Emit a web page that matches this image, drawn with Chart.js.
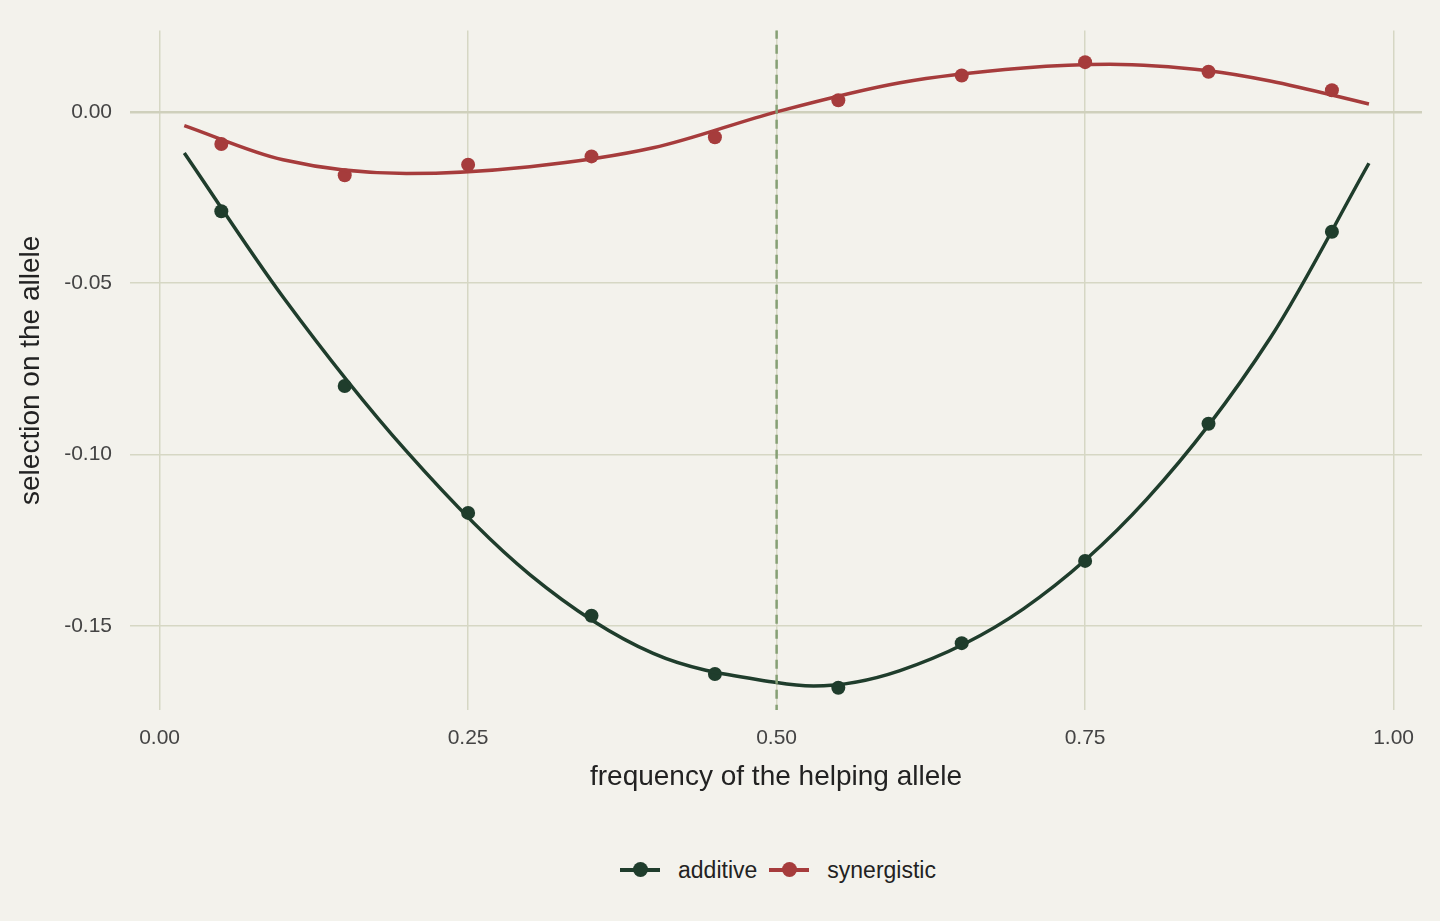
<!DOCTYPE html>
<html><head><meta charset="utf-8">
<script src="https://cdn.jsdelivr.net/npm/chart.js@4/dist/chart.umd.min.js"></script>
<style>
body{margin:0;background:#f3f2ec;font-family:"Liberation Sans",Arial,sans-serif;}
#wrap{position:relative;width:1440px;height:921px;}
#legend{position:absolute;top:851px;left:116px;width:1324px;text-align:center;font-size:23px;color:#222;}
.li{display:inline-flex;align-items:center;margin:0 6px;}
.sw{position:relative;width:40px;height:4px;margin-right:18px;}
.sw i{position:absolute;left:13px;top:-6px;width:15px;height:15px;border-radius:50%;}
</style></head><body>
<div id="wrap"><canvas id="c" width="1440" height="820" style="width:1440px;height:820px;display:block"></canvas>
<div id="legend"></div></div>
<script>
const pointX=[0.05,0.15,0.25,0.35,0.45,0.55,0.65,0.75,0.85,0.95];
const additivePts=[-0.029,-0.080,-0.117,-0.147,-0.164,-0.168,-0.155,-0.131,-0.091,-0.035];
const synergisticPts=[-0.0094,-0.0185,-0.0154,-0.013,-0.0074,0.0034,0.0106,0.0145,0.0117,0.0063];
const additiveCurveX=[0.02,0.1,0.2,0.3,0.4,0.5,0.53,0.6,0.7,0.8,0.9,0.98];
const additiveCurveY=[-0.012,-0.054,-0.099,-0.135,-0.158,-0.1665,-0.1675,-0.163,-0.145,-0.113,-0.066,-0.015];
const synCurveX=[0.02,0.1,0.2,0.3,0.4,0.5,0.6,0.7,0.77,0.85,0.9,0.98];
const synCurveY=[-0.004,-0.014,-0.018,-0.016,-0.0105,0,0.0085,0.0128,0.0139,0.012,0.009,0.0023];
const xTicks=[0,0.25,0.5,0.75,1];
const yTicks=[-0.15,-0.10,-0.05,0];
const series=[{name:'additive',color:'#1f3d2c'},{name:'synergistic',color:'#a63c3c'}];
const zip=(a,b)=>a.map((v,i)=>({x:v,y:b[i]}));
const ds=[
 {type:'line',data:[{x:0.5,y:-0.18},{x:0.5,y:0.03}],borderColor:'#86a075',borderWidth:2.5,borderDash:[9,6],pointRadius:0},
 {type:'line',data:zip(additiveCurveX,additiveCurveY),borderColor:series[0].color,borderWidth:3.5,pointRadius:0,tension:0.4,cubicInterpolationMode:'monotone'},
 {type:'line',data:zip(synCurveX,synCurveY),borderColor:series[1].color,borderWidth:3.5,pointRadius:0,tension:0.4,cubicInterpolationMode:'monotone'},
 {type:'scatter',data:zip(pointX,additivePts),backgroundColor:series[0].color,pointRadius:7,pointBorderWidth:0},
 {type:'scatter',data:zip(pointX,synergisticPts),backgroundColor:series[1].color,pointRadius:7,pointBorderWidth:0}
];
const bg={id:'bg',beforeDraw(c){const x=c.ctx;x.save();x.fillStyle='#f3f2ec';x.fillRect(0,0,c.width,c.height);x.restore();}};
new Chart(document.getElementById('c'),{type:'scatter',data:{datasets:ds},plugins:[bg],
 options:{responsive:false,animation:false,layout:{padding:{left:0,top:6,right:18,bottom:0}},
 plugins:{legend:{display:false},tooltip:{enabled:false}},
 scales:{
  x:{type:'linear',min:-0.024,max:1.023,afterBuildTicks:s=>{s.ticks=xTicks.map(v=>({value:v}));},afterFit:s=>{s.height=110;},
     grid:{color:'#d6d7c4',lineWidth:1.5,drawTicks:false},border:{display:false},
     ticks:{color:'#444',font:{size:21},padding:16,callback:v=>v.toFixed(2)},
     title:{display:true,text:'frequency of the helping allele',color:'#222',font:{size:28},padding:{top:4,bottom:26}}},
  y:{min:-0.1745,max:0.0237,afterBuildTicks:s=>{s.ticks=yTicks.map(v=>({value:v}));},afterFit:s=>{s.width=130;},
     grid:{color:s=>s.tick&&s.tick.value===0?'#cfd0bc':'#d6d7c4',lineWidth:s=>s.tick&&s.tick.value===0?2.5:1.5,drawTicks:false},border:{display:false},
     ticks:{color:'#444',font:{size:21},padding:18,callback:v=>v.toFixed(2)},
     title:{display:true,text:'selection on the allele',color:'#222',font:{size:28},padding:{top:14,bottom:0}}}
 }}});
document.getElementById('legend').innerHTML=series.map(s=>`<span class="li"><span class="sw" style="background:${s.color}"><i style="background:${s.color}"></i></span>${s.name}</span>`).join('');
</script></body></html>
